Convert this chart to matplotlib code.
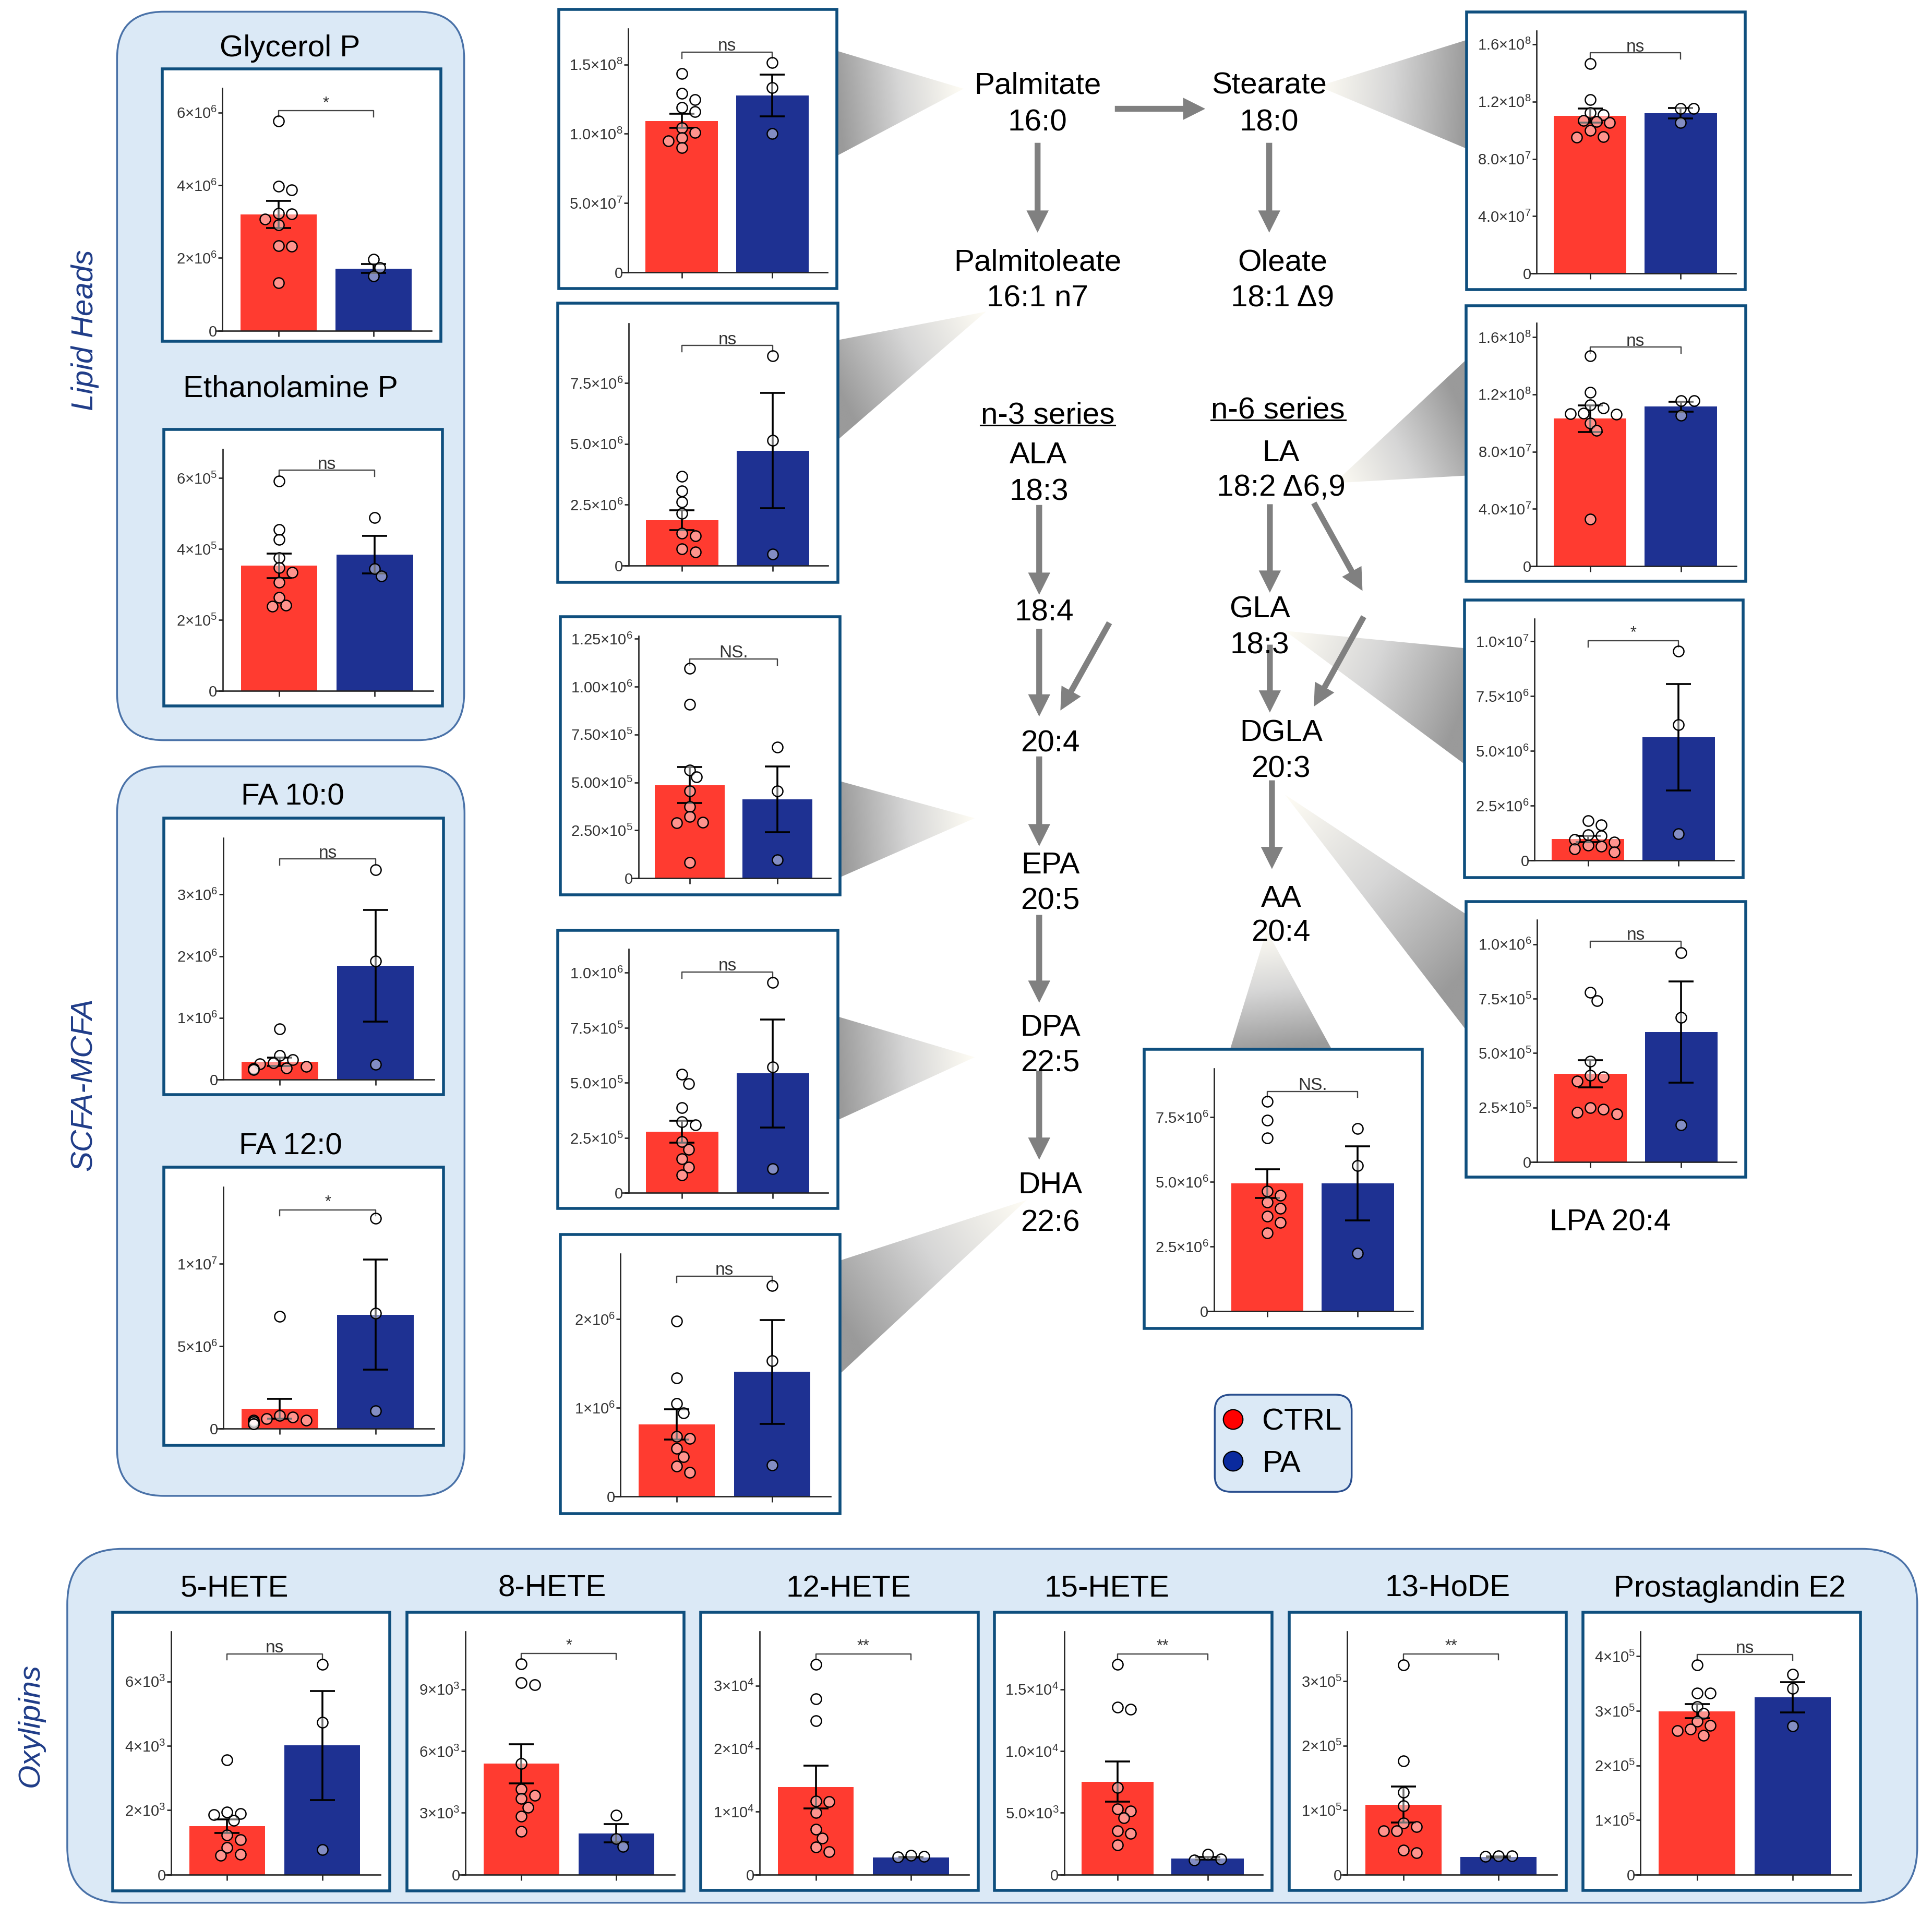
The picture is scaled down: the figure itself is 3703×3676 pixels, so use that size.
import numpy as np
import matplotlib
matplotlib.use('Agg')
import matplotlib.pyplot as plt
from matplotlib.patches import FancyBboxPatch, Rectangle, Polygon
from matplotlib.colors import LinearSegmentedColormap

plt.rcParams['font.family'] = ['Liberation Sans', 'DejaVu Sans']
plt.rcParams['mathtext.fontset'] = 'custom'
plt.rcParams['mathtext.rm'] = 'Liberation Sans'
plt.rcParams['mathtext.it'] = 'Liberation Sans:italic'

# ---------------- data ----------------
panels = ['glycerol', 'ethanolamine', 'fa10', 'fa12',
          'palmitate', 'palmitoleate', 'n3_204', 'dpa', 'dha',
          'stearate', 'la', 'dgla', 'lpa', 'aa',
          'hete5', 'hete8', 'hete12', 'hete15', 'hode13', 'pge2']

ctrl_mean = [3.2e6, 3.53e5, 2.88e5, 1.2e6,
             1.094e8, 1.87e6, 4.86e5, 2.79e5, 8.14e5,
             1.101e8, 1.031e8, 9.82e5, 4.05e5, 4.94e6,
             1.51e3, 5.38e3, 1.389e4, 7.52e3, 1.085e5, 2.994e5]
ctrl_sem = [0.37e6, 0.345e5, 0.7e5, 0.6e6,
            0.052e8, 0.41e6, 0.94e5, 0.5e5, 1.7e5,
            0.049e8, 0.093e8, 0.15e6, 0.62e5, 0.56e6,
            0.21e3, 0.95e3, 0.34e4, 1.62e3, 0.28e5, 0.13e5]
pa_mean = [1.71e6, 3.84e5, 1.846e6, 6.92e6,
           1.277e8, 4.72e6, 4.11e5, 5.43e5, 1.405e6,
           1.119e8, 1.114e8, 5.63e6, 5.97e5, 4.94e6,
           4.01e3, 2.0e3, 2.73e3, 1.31e3, 2.73e4, 3.25e5]
pa_sem = [0.125e6, 0.53e5, 0.907e6, 3.34e6,
          0.15e8, 2.37e6, 1.72e5, 2.46e5, 5.85e5,
          0.035e8, 0.034e8, 2.43e6, 2.32e5, 1.43e6,
          1.70e3, 0.44e3, 60, 100, 500, 0.275e5]

ctrl_points = {
    'glycerol': [5.76e6, 3.97e6, 3.87e6, 3.23e6, 3.21e6, 3.07e6, 2.91e6, 2.34e6, 2.32e6, 1.32e6],
    'ethanolamine': [5.91e5, 4.55e5, 4.27e5, 3.75e5, 3.47e5, 3.34e5, 3.06e5, 2.64e5, 2.41e5, 2.38e5],
    'fa10': [8.2e5, 3.9e5, 3.2e5, 2.7e5, 2.5e5, 2.1e5, 1.9e5, 1.8e5, 1.7e5, 1.6e5],
    'fa12': [6.8e6, 0.8e6, 0.7e6, 0.6e6, 0.5e6, 0.5e6, 0.4e6, 0.4e6, 0.3e6, 0.3e6],
    'palmitate': [1.435e8, 1.29e8, 1.245e8, 1.19e8, 1.16e8, 1.045e8, 1.01e8, 0.97e8, 0.95e8, 0.90e8],
    'palmitoleate': [3.66e6, 3.06e6, 2.62e6, 2.14e6, 1.32e6, 1.22e6, 0.68e6, 0.55e6],
    'n3_204': [10.95e5, 9.09e5, 5.65e5, 5.28e5, 4.54e5, 3.73e5, 3.23e5, 2.92e5, 2.88e5, 0.81e5],
    'dpa': [5.38e5, 4.97e5, 3.88e5, 3.24e5, 3.10e5, 2.33e5, 1.98e5, 1.55e5, 1.17e5, 0.81e5],
    'dha': [1.979e6, 1.336e6, 1.049e6, 0.942e6, 0.677e6, 0.655e6, 0.544e6, 0.45e6, 0.343e6, 0.27e6],
    'stearate': [1.463e8, 1.212e8, 1.122e8, 1.108e8, 1.066e8, 1.059e8, 1.052e8, 0.997e8, 0.955e8, 0.951e8],
    'la': [1.47e8, 1.213e8, 1.126e8, 1.106e8, 1.067e8, 1.063e8, 1.059e8, 1.0e8, 0.948e8, 0.328e8],
    'dgla': [1.81e6, 1.63e6, 1.16e6, 1.11e6, 0.96e6, 0.83e6, 0.70e6, 0.65e6, 0.52e6, 0.39e6],
    'lpa': [7.79e5, 7.4e5, 4.62e5, 3.97e5, 3.92e5, 3.71e5, 2.49e5, 2.42e5, 2.29e5, 2.21e5],
    'aa': [8.12e6, 7.38e6, 6.71e6, 4.65e6, 4.48e6, 4.21e6, 3.98e6, 3.67e6, 3.44e6, 3.02e6],
    'hete5': [3.57e3, 1.94e3, 1.90e3, 1.86e3, 1.68e3, 1.23e3, 1.08e3, 0.83e3, 0.62e3, 0.59e3],
    'hete8': [10.22e3, 9.32e3, 9.22e3, 5.38e3, 4.15e3, 3.85e3, 3.68e3, 3.27e3, 2.82e3, 2.09e3],
    'hete12': [3.34e4, 2.79e4, 2.44e4, 1.17e4, 1.16e4, 0.98e4, 0.72e4, 0.58e4, 0.44e4, 0.36e4],
    'hete15': [17.0e3, 13.55e3, 13.38e3, 7.03e3, 5.30e3, 5.14e3, 4.57e3, 3.52e3, 3.31e3, 2.39e3],
    'hode13': [3.257e5, 1.766e5, 1.28e5, 1.063e5, 0.80e5, 0.74e5, 0.676e5, 0.676e5, 0.381e5, 0.335e5],
    'pge2': [3.846e5, 3.323e5, 3.323e5, 3.078e5, 2.95e5, 2.811e5, 2.73e5, 2.664e5, 2.64e5, 2.554e5],
}
pa_points = {
    'glycerol': [1.96e6, 1.73e6, 1.50e6],
    'ethanolamine': [4.88e5, 3.44e5, 3.23e5],
    'fa10': [3.40e6, 1.92e6, 0.245e6],
    'fa12': [12.76e6, 7.0e6, 1.08e6],
    'palmitate': [1.515e8, 1.332e8, 1.0e8],
    'palmitoleate': [8.61e6, 5.15e6, 0.48e6],
    'n3_204': [6.85e5, 4.54e5, 0.95e5],
    'dpa': [9.57e5, 5.72e5, 1.10e5],
    'dha': [2.377e6, 1.529e6, 0.355e6],
    'stearate': [1.15e8, 1.15e8, 1.052e8],
    'la': [1.154e8, 1.154e8, 1.055e8],
    'dgla': [9.56e6, 6.2e6, 1.21e6],
    'lpa': [9.61e5, 6.65e5, 1.71e5],
    'aa': [7.07e6, 5.63e6, 2.24e6],
    'hete5': [6.54e3, 4.74e3, 0.77e3],
    'hete8': [2.89e3, 1.74e3, 1.36e3],
    'hete12': [0.30e4, 0.29e4, 0.28e4],
    'hete15': [1.62e3, 1.26e3, 1.18e3],
    'hode13': [0.29e5, 0.29e5, 0.28e5],
    'pge2': [3.67e5, 3.414e5, 2.726e5],
}

y_top = [6.67e6, 6.82e5, 3.92e6, 1.468e7,
         1.756e8, 9.94e6, 1.264e6, 1.107e6, 2.74e6,
         1.693e8, 1.699e8, 1.103e7, 1.112e6, 9.38e6,
         7.56e3, 1.181e4, 3.863e4, 1.969e4, 3.774e5, 4.457e5]
y_ticks = [[0, 2e6, 4e6, 6e6], [0, 2e5, 4e5, 6e5], [0, 1e6, 2e6, 3e6], [0, 5e6, 1e7],
           [0, 5e7, 1e8, 1.5e8], [0, 2.5e6, 5e6, 7.5e6], [0, 2.5e5, 5e5, 7.5e5, 1e6, 1.25e6],
           [0, 2.5e5, 5e5, 7.5e5, 1e6], [0, 1e6, 2e6],
           [0, 4e7, 8e7, 1.2e8, 1.6e8], [0, 4e7, 8e7, 1.2e8, 1.6e8], [0, 2.5e6, 5e6, 7.5e6, 1e7],
           [0, 2.5e5, 5e5, 7.5e5, 1e6], [0, 2.5e6, 5e6, 7.5e6],
           [0, 2e3, 4e3, 6e3], [0, 3e3, 6e3, 9e3], [0, 1e4, 2e4, 3e4], [0, 5e3, 1e4, 1.5e4],
           [0, 1e5, 2e5, 3e5], [0, 1e5, 2e5, 3e5, 4e5]]
tick_decimals = [0, 0, 0, 0, 1, 1, 2, 1, 0, 1, 1, 1, 1, 1, 0, 0, 0, 1, 0, 0]
sig_labels = ['*', 'ns', 'ns', '*', 'ns', 'ns', 'NS.', 'ns', 'ns',
              'ns', 'ns', '*', 'ns', 'NS.', 'ns', '*', '**', '**', '**', 'ns']
bracket_y = [6.05e6, 6.22e5, 3.575e6, 1.328e7,
             1.588e8, 9.04e6, 1.145e6, 1.003e6, 2.484e6,
             1.54e8, 1.529e8, 1.003e7, 1.013e6, 8.5e6,
             6.86e3, 1.075e4, 3.508e4, 1.788e4, 3.427e5, 4.037e5]

# ---------------- layout (pixels of a 1568 wide view) ----------------
W, H = 1568.0, 1556.6
S = 3703 / W

# frame x0, y0, x1, y1, y-spine x, zero line y, spine top y
layout = {
    'glycerol': (131.9, 55.8, 357.8, 277.0, 180.5, 268.4, 71.5),
    'ethanolamine': (132.8, 348.4, 359.2, 572.9, 180.7, 560.6, 364.4),
    'fa10': (132.8, 663.8, 359.9, 888.4, 181.2, 876.1, 679.9),
    'fa12': (132.8, 947.2, 359.9, 1172.8, 181.2, 1159.4, 963.2),
    'palmitate': (453.3, 7.8, 679.3, 234.2, 509.9, 221.2, 23.5),
    'palmitoleate': (452.6, 246.1, 679.9, 472.5, 510.1, 459.0, 262.7),
    'n3_204': (454.9, 500.7, 681.7, 726.2, 518.1, 712.7, 516.3),
    'dpa': (452.6, 755.0, 679.9, 980.5, 510.1, 968.2, 770.4),
    'dha': (454.9, 1002.0, 681.7, 1228.4, 503.6, 1214.5, 1017.4),
    'stearate': (1190.4, 9.7, 1416.5, 235.0, 1247.1, 222.0, 25.1),
    'la': (1189.9, 248.3, 1416.7, 471.9, 1247.2, 459.5, 262.0),
    'dgla': (1188.4, 487.1, 1414.8, 712.1, 1245.4, 698.3, 502.2),
    'lpa': (1189.9, 731.9, 1417.0, 955.5, 1247.3, 943.1, 746.5),
    'aa': (928.6, 851.7, 1154.4, 1077.9, 985.3, 1064.2, 867.3),
    'hete5': (91.5, 1308.6, 316.2, 1534.4, 138.9, 1521.3, 1324.0),
    'hete8': (330.3, 1308.6, 555.0, 1534.4, 377.7, 1521.3, 1324.0),
    'hete12': (568.7, 1308.5, 794.1, 1534.3, 616.5, 1521.3, 1324.0),
    'hete15': (807.2, 1308.5, 1032.4, 1534.3, 863.7, 1521.3, 1324.0),
    'hode13': (1046.2, 1308.5, 1271.1, 1534.3, 1093.5, 1521.3, 1324.0),
    'pge2': (1284.8, 1308.5, 1510.0, 1534.3, 1331.5, 1521.3, 1324.0),
}

RED, BLUE = '#ff3b30', '#1e3192'
FRAME = '#0f4f7e'
BOXFILL, BOXEDGE = '#dbe9f6', '#4a72a8'
ARROW = '#808080'
GROUP = '#1f3c88'

fig = plt.figure(figsize=(37.03, 36.76), dpi=100)
ov = fig.add_axes([0, 0, 1, 1])
ov.axis('off')


def label(x, y, s, fs=42, ha='center', **kw):
    # y is the middle of the capitals
    ov.text(x, y + 0.358 * fs * 100 / 72 / S, s, fontsize=fs, ha=ha, va='baseline', zorder=6, **kw)


def rbox(x0, y0, x1, y1, r, ec=BOXEDGE):
    ov.add_patch(FancyBboxPatch((x0, y0), x1 - x0, y1 - y0,
                                boxstyle=f'round,pad=0,rounding_size={r}',
                                fc=BOXFILL, ec=ec, lw=2.5, zorder=1))


wedge_cmap = LinearSegmentedColormap.from_list('wedge', ['#9a9a9a', '#d6d6d6', '#fffdf5'])


def wedge(p1, p2, tip):
    pts = np.array([p1, p2, tip], dtype=float)
    xmin, ymin = pts.min(0)
    xmax, ymax = pts.max(0)
    X, Y = np.meshgrid(np.linspace(xmin, xmax, int(xmax - xmin) * 3 + 2),
                       np.linspace(ymin, ymax, int(ymax - ymin) * 3 + 2))
    base = (pts[0] + pts[1]) / 2
    d = pts[2] - base
    t = np.clip(((X - base[0]) * d[0] + (Y - base[1]) * d[1]) / (d @ d), 0, 1)
    poly = Polygon(pts, closed=True, fc='none', ec='none')
    ov.add_patch(poly)
    im = ov.imshow(t, cmap=wedge_cmap, vmin=0, vmax=1, extent=(xmin, xmax, ymax, ymin),
                   origin='upper', aspect='auto', zorder=2, interpolation='bilinear')
    im.set_clip_path(poly)


def arrow(x0, y0, x1, y1):
    ov.arrow(x0, y0, x1 - x0, y1 - y0, width=4.8, head_width=18, head_length=18,
             length_includes_head=True, fc=ARROW, ec='none', zorder=4)


def sci_label(v, dec):
    if v == 0:
        return '0'
    e = int(np.floor(np.log10(v) + 1e-9))
    m = v / 10 ** e
    return f'{m:.{dec}f}×10$^{{{e}}}$'


def swarm(vals, px_y, px_x, d=9.7):
    order = np.argsort(vals)[::-1]
    placed = []
    offs = np.zeros(len(vals))
    for k in order:
        y = vals[k] * px_y
        for c in [0, 0.55, -0.55, 1.1, -1.1, 1.65, -1.65, 2.2, -2.2]:
            x = c * d
            if all((x - px) ** 2 + (y - py) ** 2 >= (0.8 * d) ** 2 for px, py in placed):
                break
        placed.append((x, y))
        offs[k] = x / px_x
    return offs


# background boxes
rbox(95, 9.5, 376.7, 600.7, 38)
rbox(95, 622, 377, 1214, 38)
rbox(54.6, 1257, 1556, 1544.2, 45)
rbox(985.9, 1131.9, 1097, 1210.7, 13, ec='#2a4f8f')

# gradient wedges linking panels to the pathway
wedge((679.3, 41.3), (679.3, 126.4), (782, 72))
wedge((1190.4, 32.4), (1190.4, 120.7), (1070, 70))
wedge((679.9, 276), (679.9, 357), (800, 253))
wedge((1189.9, 292), (1189.9, 386), (1083, 392))
wedge((1188.4, 526), (1188.4, 620), (1043, 512))
wedge((1189.9, 742), (1189.9, 836), (1043, 645))
wedge((681.7, 634), (681.7, 712), (791, 664))
wedge((679.9, 825), (679.9, 909), (791, 858))
wedge((681.7, 1023), (681.7, 1115), (833, 974))
wedge((998.3, 851.7), (1080.9, 851.7), (1028, 755))

# pathway arrows
arrow(904.8, 88.3, 978.2, 88.3)
arrow(842.1, 115.9, 842.1, 188.8)
arrow(1030.1, 115.9, 1030.1, 188.8)
arrow(843.4, 409.8, 843.4, 482.7)
arrow(843.4, 510.3, 843.4, 581.5)
arrow(900.4, 505.4, 860.6, 576.6)
arrow(843.4, 613.9, 843.4, 686.8)
arrow(843.4, 742.5, 843.4, 813.8)
arrow(843.4, 868.9, 843.4, 941.2)
arrow(1030.6, 409.2, 1030.6, 481.0)
arrow(1066.3, 408.2, 1105.8, 479.5)
arrow(1030.6, 523.2, 1030.6, 578.3)
arrow(1106.8, 500.5, 1066.3, 573.4)
arrow(1032.3, 633.3, 1032.3, 705.3)

# pathway labels
for x, y, s in [(842.1, 67.3, 'Palmitate'), (842.1, 97.2, '16:0'),
                (1030.1, 67.3, 'Stearate'), (1030.1, 97.2, '18:0'),
                (842.1, 210.7, 'Palmitoleate'), (842.1, 239.8, '16:1 n7'),
                (1040.8, 210.7, 'Oleate'), (1041.0, 239.8, '18:1 Δ9'),
                (850.2, 334.6, 'n-3 series'), (1037.1, 330.4, 'n-6 series'),
                (842.7, 367.1, 'ALA'), (843.4, 396.9, '18:3'),
                (1039.7, 365.4, 'LA'), (1039.7, 393.6, '18:2 Δ6,9'),
                (847.6, 494.7, '18:4'), (1022.5, 492.4, 'GLA'), (1022.5, 521.6, '18:3'),
                (852.5, 601.0, '20:4'), (1039.7, 592.8, 'DGLA'), (1039.7, 622.0, '20:3'),
                (852.5, 699.8, 'EPA'), (852.5, 728.9, '20:5'),
                (1039.7, 727.3, 'AA'), (1039.7, 754.8, '20:4'),
                (852.5, 831.6, 'DPA'), (852.5, 860.8, '22:5'),
                (852.5, 959.6, 'DHA'), (852.5, 990.4, '22:6'),
                (1307.0, 990.0, 'LPA 20:4')]:
    label(x, y, s)
ov.plot([795.8, 905.0], [345.0, 345.0], color='black', lw=2.2, zorder=6)
ov.plot([982.7, 1092.2], [340.8, 340.8], color='black', lw=2.2, zorder=6)

# panel titles
for x, y, s in [(235.3, 36.9, 'Glycerol P'), (236.0, 313.0, 'Ethanolamine P'),
                (237.7, 644.5, 'FA 10:0'), (236.0, 928.0, 'FA 12:0'),
                (190.5, 1286.8, '5-HETE'), (448.0, 1286.8, '8-HETE'),
                (688.5, 1286.8, '12-HETE'), (898.5, 1286.8, '15-HETE'),
                (1175.0, 1286.8, '13-HoDE'), (1404.0, 1286.8, 'Prostaglandin E2')]:
    label(x, y, s)

# group labels
for x, y, s in [(69, 268, 'Lipid Heads'), (68, 880, 'SCFA-MCFA'), (25, 1400, 'Oxylipins')]:
    ov.text(x, y, s, rotation=90, fontsize=42, style='italic', color=GROUP,
            ha='center', va='center', zorder=6)

# legend
ov.plot([1000.8], [1151.7], 'o', ms=27, mfc='#ff0000', mec='black', mew=1.6, zorder=6)
ov.plot([1000.8], [1185.7], 'o', ms=27, mfc='#0a2a9e', mec='black', mew=1.6, zorder=6)
label(1024.2, 1151.7, 'CTRL', ha='left')
label(1024.2, 1185.7, 'PA', ha='left')

# panel frames
for name in panels:
    x0, y0, x1, y1 = layout[name][:4]
    ov.add_patch(Rectangle((x0, y0), x1 - x0, y1 - y0, fc='white', ec=FRAME, lw=4, zorder=3))

ov.set_xlim(0, W)
ov.set_ylim(H, 0)

# bar panels
for i, name in enumerate(panels):
    x0, y0, x1, y1, sx, zy, ty = layout[name]
    right = x1 - 7.7
    unit = (right - sx) / 2.2
    left = sx - 5
    ax = fig.add_axes([left / W, 1 - zy / H, (right - left) / W, (zy - ty) / H])
    ax.patch.set_visible(False)
    ax.set_xlim(-0.59 - 5 / unit, 1.61)
    ax.set_ylim(0, y_top[i])
    for side in ['top', 'right']:
        ax.spines[side].set_visible(False)
    for side in ['left', 'bottom']:
        ax.spines[side].set_linewidth(1.9)
        ax.spines[side].set_color('#222222')
    ax.spines['left'].set_position(('data', -0.59))

    ax.bar([0, 1], [ctrl_mean[i], pa_mean[i]], width=0.8, color=[RED, BLUE], zorder=1)
    ax.errorbar([0, 1], [ctrl_mean[i], pa_mean[i]], yerr=[ctrl_sem[i], pa_sem[i]],
                fmt='none', ecolor='black', elinewidth=2.6, capsize=17, capthick=2.6, zorder=2)

    px_y = (zy - ty) / y_top[i]
    for xc, pts in [(0, ctrl_points[name]), (1, pa_points[name])]:
        vals = np.array(pts)
        xs = xc + swarm(vals, px_y, unit)
        ax.scatter(xs, vals, s=210, facecolor=(1, 1, 1, 0.45), edgecolor='black',
                   linewidth=1.8, zorder=3, clip_on=False)

    b = bracket_y[i]
    drop = 0.025 * y_top[i]
    ax.plot([0, 0, 1, 1], [b - drop, b, b, b - drop], color='#444444', lw=1.7, clip_on=False)
    star = sig_labels[i].startswith('*')
    ax.annotate(sig_labels[i], (0.5, b), xytext=(0, 4 if star else 2), textcoords='offset points',
                ha='center', va='baseline', fontsize=22 if star else 24, color='#333333')

    ax.set_xticks([0, 1])
    ax.set_xticklabels([])
    ax.tick_params(axis='x', length=8, width=1.9, direction='out', color='#222222')
    ax.set_yticks(y_ticks[i])
    ax.set_yticklabels([sci_label(v, tick_decimals[i]) for v in y_ticks[i]])
    ax.tick_params(axis='y', length=5.5, width=1.9, direction='out', labelsize=21,
                   pad=2, color='#222222', labelcolor='#333333')

fig.savefig('out.png', dpi=100)
